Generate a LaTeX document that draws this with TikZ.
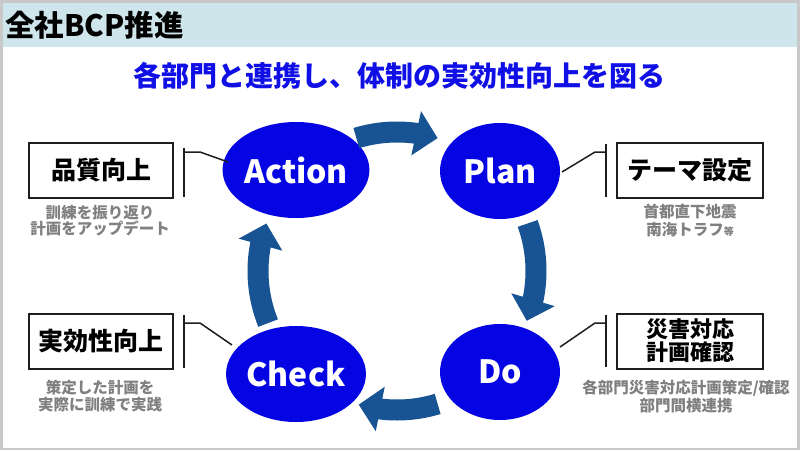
\documentclass[tikz,border=0pt]{standalone}
\usepackage{fontspec}
\setmainfont{Noto Sans CJK JP}
\usetikzlibrary{shapes.geometric,arrows.meta,bending}
\definecolor{framegray}{RGB}{200,200,200}
\definecolor{hdr}{RGB}{206,229,235}
\definecolor{ellblue}{RGB}{5,5,228}
\definecolor{subblue}{RGB}{15,15,230}
\definecolor{arrowblue}{RGB}{24,84,148}
\definecolor{notegray}{RGB}{128,128,128}
\definecolor{ink}{RGB}{30,30,30}
\begin{document}
\begin{tikzpicture}[x=1pt,y=-1pt,
  phase/.style={ellipse,fill=ellblue,minimum width=120pt,minimum height=96pt,inner sep=0pt,
    text=white,font=\bfseries\fontsize{32}{32}\selectfont},
  cyc/.style={draw=arrowblue,line width=21pt,-{Triangle[width=44pt,length=22pt]}},
  labelbox/.style={draw=ink,line width=2pt,fill=white,minimum width=144pt,minimum height=55pt,inner sep=0pt,
    align=center,font=\bfseries\fontsize{25}{25}\selectfont,text=black},
  note/.style={text=notegray,align=center,inner sep=0pt},
  bar/.style={draw=ink,line width=2pt},
  conn/.style={draw=ink,line width=1.5pt}]
\useasboundingbox (0,0) rectangle (800,450);
\fill[framegray] (0,0) rectangle (800,450);
\fill[white] (3,3) rectangle (797,448);
\fill[hdr] (3,3) rectangle (797,47);
\node[anchor=west,inner sep=0pt,font=\bfseries\fontsize{29.5}{29.5}\selectfont] (title) at (5,25) {全社BCP推進};
\node[inner sep=0pt,text=subblue,font=\bfseries\fontsize{28}{28}\selectfont] (sub) at (399,76) {各部門と連携し、体制の実効性向上を図る};
% phases
\node[phase] (act) at (296,170) {Action};
\node[phase] (plan) at (500,171) {Plan};
\node[phase] (chk) at (296,374) {Check};
\node[phase] (do) at (500,372) {Do};
% cycle arrows
\coordinate (cc) at (397,271);
\draw[cyc] ([shift={(-107:139)}]cc) arc[start angle=-107,end angle=-73,radius=139];
\draw[cyc] ([shift={(-20:139)}]cc) arc[start angle=-20,end angle=21,radius=139];
\draw[cyc] ([shift={(73:139)}]cc) arc[start angle=73,end angle=106,radius=139];
\draw[cyc] ([shift={(158:139)}]cc) arc[start angle=158,end angle=200,radius=139];
% boxes
\node[labelbox] (b1) at (101,170.5) {品質向上};
\node[labelbox,minimum width=146pt] (b2) at (690,170.5) {テーマ設定};
\node[labelbox] (b3) at (101,341) {実効性向上};
\node[labelbox,minimum width=146pt,font=\bfseries\fontsize{22}{23}\selectfont] (b4) at (690,341) {災害対応\\計画確認};
% notes
\node[note,font=\bfseries\fontsize{15.5}{14.5}\selectfont] (n1) at (100,220.5) {訓練を振り返り\\計画をアップデート};
\node[note,font=\bfseries\fontsize{15.5}{18}\selectfont] (n2) at (690,221) {首都直下地震\\南海トラフ{\fontsize{10}{10}\selectfont 等}};
\node[note,font=\bfseries\fontsize{15.5}{17}\selectfont] (n3) at (100,396) {策定した計画を\\実際に訓練で実践};
\node[note,font=\bfseries\fontsize{15.5}{18}\selectfont] (n4) at (686,396.5) {各部門災害対応計画策定/確認\\部門間横連携};
% connectors
\coordinate (v1a) at (184,148); \coordinate (v1b) at (184,197);
\coordinate (k1a) at (184,152); \coordinate (k1b) at (200,152); \coordinate (k1c) at (228,162);
\draw[bar] (v1a) -- (v1b);
\draw[conn] (k1a) -- (k1b) -- (k1c);
\coordinate (v2a) at (606,144); \coordinate (v2b) at (606,197);
\coordinate (k2a) at (606,152); \coordinate (k2b) at (595,152); \coordinate (k2c) at (562,172);
\draw[bar] (v2a) -- (v2b);
\draw[conn] (k2a) -- (k2b) -- (k2c);
\coordinate (v3a) at (184,315); \coordinate (v3b) at (184,368);
\coordinate (k3a) at (184,323); \coordinate (k3b) at (200,323); \coordinate (k3c) at (232,345);
\draw[bar] (v3a) -- (v3b);
\draw[conn] (k3a) -- (k3b) -- (k3c);
\coordinate (v4a) at (606,315); \coordinate (v4b) at (606,367);
\coordinate (k4a) at (606,323); \coordinate (k4b) at (595,323); \coordinate (k4c) at (560,347);
\draw[bar] (v4a) -- (v4b);
\draw[conn] (k4a) -- (k4b) -- (k4c);
\end{tikzpicture}
\end{document}
